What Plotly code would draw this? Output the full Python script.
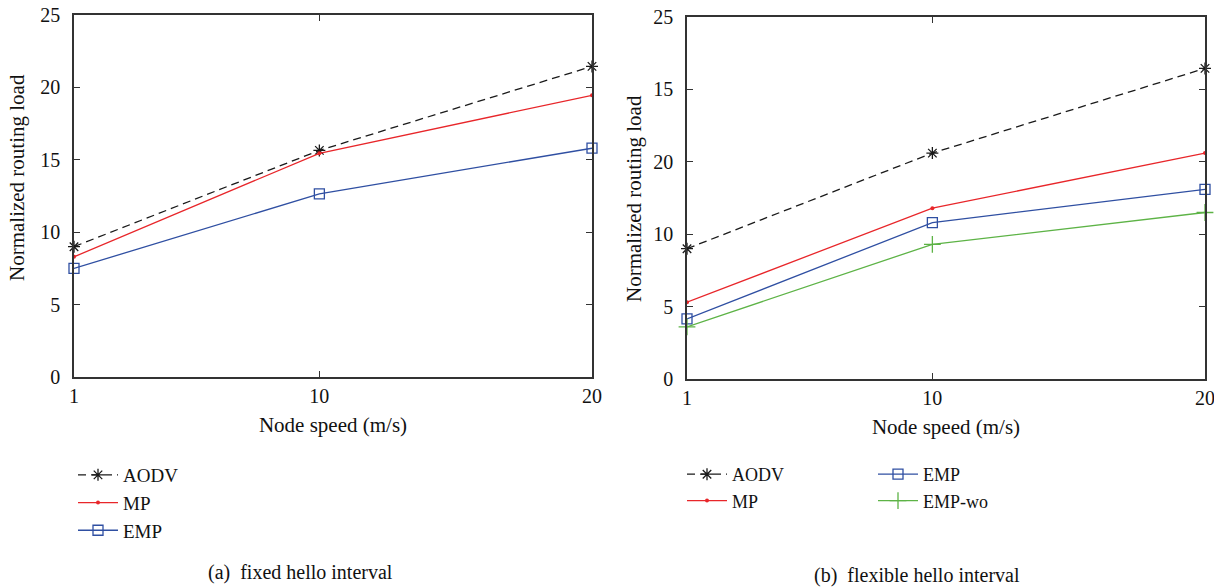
import plotly.graph_objects as go

# ---- data ----
speeds = [1, 10, 20]
x_ticks = [1, 10, 20]
y_ticks = [0, 5, 10, 15, 20, 25]
a_ticktext = ["0", "5", "10", "15", "20", "25"]
b_ticktext = ["0", "5", "10", "20", "15", "25"]  # as printed in the original

a_aodv = [9.0, 15.65, 21.45]
a_mp = [8.3, 15.45, 19.45]
a_emp = [7.5, 12.65, 15.8]

b_aodv = [9.0, 15.6, 21.45]
b_mp = [5.3, 11.8, 15.6]
b_emp = [4.15, 10.8, 13.1]
b_empwo = [3.6, 9.3, 11.5]

FONT = "Liberation Serif"
BLACK = "#1a1a1a"
RED = "#e8262a"
BLUE = "#2f4fa2"
GREEN = "#5db346"
TXT = "#111111"

fig = go.Figure()

def add(x, y, name, color, dash, symbol, msize, xa, ya, legend, mlw=1.3):
    fig.add_trace(go.Scatter(
        x=x, y=y, name=name, mode="lines+markers",
        line=dict(color=color, width=1.3, dash=dash),
        marker=dict(symbol=symbol, size=msize, color=color,
                    line=dict(color=color, width=mlw)),
        xaxis=xa, yaxis=ya, legend=legend, cliponaxis=False,
    ))

# panel (a)
add(speeds, a_aodv, "AODV", BLACK, "8px,5px", "asterisk-open", 10, "x", "y", "legend")
add(speeds, a_mp, "MP", RED, "solid", "circle", 4, "x", "y", "legend", 0)
add(speeds, a_emp, "EMP", BLUE, "solid", "square-open", 10, "x", "y", "legend")

# panel (b)
add(speeds, b_aodv, "AODV", BLACK, "8px,5px", "asterisk-open", 10, "x2", "y2", "legend2")
add(speeds, b_mp, "MP", RED, "solid", "circle", 4, "x2", "y2", "legend2", 0)
add(speeds, b_emp, "EMP", BLUE, "solid", "square-open", 10, "x2", "y2", "legend3")
add(speeds, b_empwo, "EMP-wo", GREEN, "solid", "cross-thin-open", 12, "x2", "y2", "legend3")

W, H = 1214, 588

axis_common = dict(
    showline=True, linecolor="#333333", linewidth=1.5, mirror="ticks",
    ticks="inside", ticklen=6, tickwidth=1.2, tickcolor="#333333",
    showgrid=False, zeroline=False, automargin=False,
    tickfont=dict(family=FONT, size=20, color=TXT),
)

xa = dict(axis_common, range=[1, 20], tickvals=x_ticks, ticklabeloverflow="allow",
          title=dict(text="Node speed (m/s)", font=dict(family=FONT, size=21, color=TXT), standoff=12))

fig.update_layout(
    width=W, height=H,
    margin=dict(l=0, r=0, t=0, b=0),
    paper_bgcolor="white", plot_bgcolor="white",
    font=dict(family=FONT, size=20, color=TXT),
    xaxis=dict(xa, domain=[74 / W, 592 / W], anchor="y"),
    yaxis=dict(axis_common, range=[0, 25], tickvals=y_ticks, ticktext=a_ticktext,
               domain=[1 - 377 / H, 1 - 15 / H], anchor="x", ticklabelstandoff=8),
    xaxis2=dict(xa, domain=[687 / W, 1205 / W], anchor="y2"),
    yaxis2=dict(axis_common, range=[0, 25], tickvals=y_ticks, ticktext=b_ticktext,
                domain=[1 - 379 / H, 1 - 17 / H], anchor="x2", ticklabelstandoff=8),
    legend=dict(x=73 / W, y=1 - 456 / H, xanchor="left", yanchor="top",
                bgcolor="rgba(0,0,0,0)", font=dict(family=FONT, size=19), itemwidth=40,
                tracegroupgap=0),
    legend2=dict(x=682 / W, y=1 - 456 / H, xanchor="left", yanchor="top",
                 bgcolor="rgba(0,0,0,0)", font=dict(family=FONT, size=18), itemwidth=40),
    legend3=dict(x=873 / W, y=1 - 456 / H, xanchor="left", yanchor="top",
                 bgcolor="rgba(0,0,0,0)", font=dict(family=FONT, size=18), itemwidth=40),
    showlegend=True,
)

# y-axis titles
fig.add_annotation(text="Normalized routing load", x=17 / W, y=1 - 178 / H, textangle=-90,
                   xref="paper", yref="paper", showarrow=False, xanchor="center", yanchor="middle",
                   font=dict(family=FONT, size=21, color=TXT))
fig.add_annotation(text="Normalized routing load", x=634 / W, y=1 - 198 / H, textangle=-90,
                   xref="paper", yref="paper", showarrow=False, xanchor="center", yanchor="middle",
                   font=dict(family=FONT, size=21, color=TXT))

# captions
fig.add_annotation(text="(a)&nbsp; fixed hello interval", x=300 / W, y=1 - 572 / H,
                   xref="paper", yref="paper", showarrow=False, xanchor="center", yanchor="middle",
                   font=dict(family=FONT, size=20, color=TXT))
fig.add_annotation(text="(b)&nbsp; flexible hello interval", x=917 / W, y=1 - 575 / H,
                   xref="paper", yref="paper", showarrow=False, xanchor="center", yanchor="middle",
                   font=dict(family=FONT, size=20, color=TXT))

fig.write_html("out.html")
